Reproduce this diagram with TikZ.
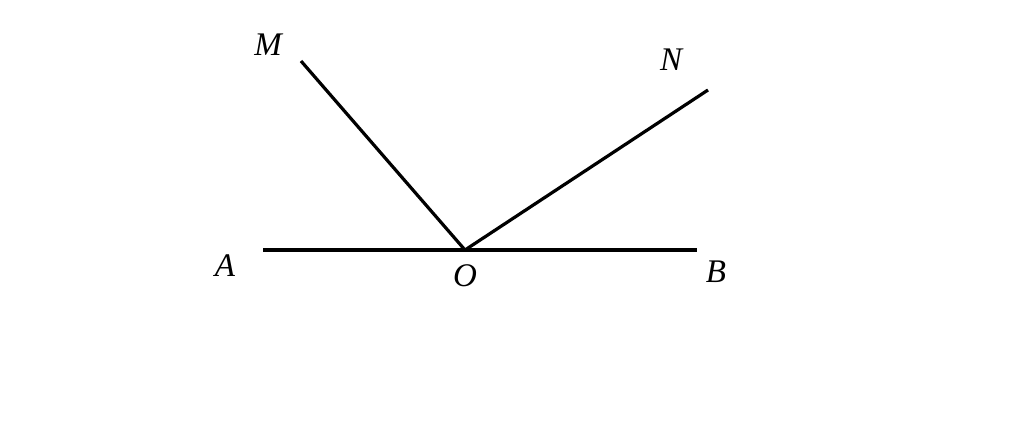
\documentclass[tikz,border=0pt]{standalone}
\usepackage{fontspec}
\setmainfont{Liberation Serif}
\begin{document}
\begin{tikzpicture}[x=1pt,y=-1pt,
  seg/.style={line width=3.2pt},
  lbl/.style={font=\fontsize{33}{36}\selectfont\itshape, inner sep=0pt, anchor=base}]
\useasboundingbox (0,0) rectangle (1024,423);
\coordinate (A) at (263,250);
\coordinate (B) at (697,250);
\coordinate (O) at (465,250);
\coordinate (M) at (301,61);
\coordinate (N) at (708,90);
\draw[seg] (A) -- (B);
\draw[seg] (O) -- (M);
\draw[seg] (O) -- (N);
\node[lbl] (lM) at (268,55) {M};
\node[lbl] (lN) at (671,70) {N};
\node[lbl] (lA) at (225,276) {A};
\node[lbl] (lO) at (465,286) {O};
\node[lbl] (lB) at (716,282) {B};
\end{tikzpicture}
\end{document}
